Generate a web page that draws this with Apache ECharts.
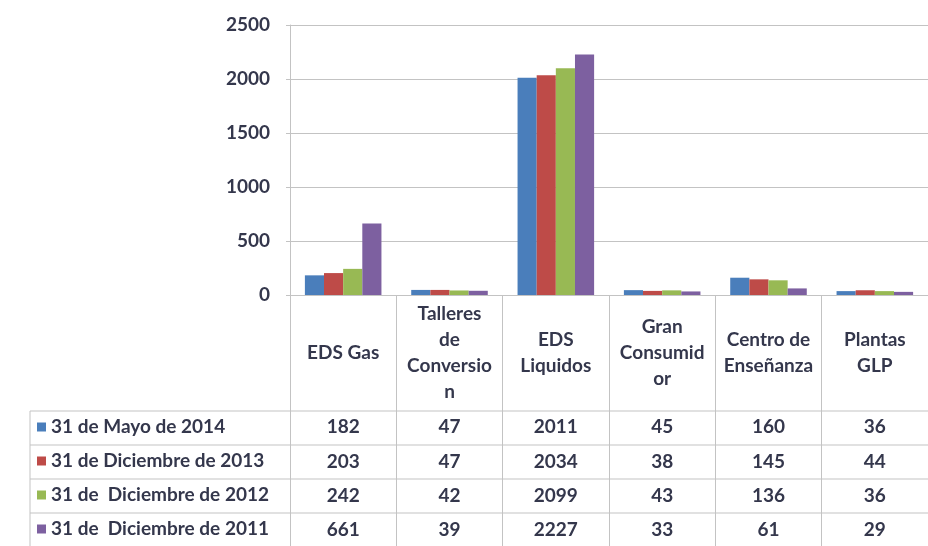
<!DOCTYPE html>
<html>
<head>
<meta charset="utf-8">
<script src="https://cdn.jsdelivr.net/npm/echarts@6/dist/echarts.min.js"></script>
<style>
  html, body { margin: 0; padding: 0; background: #fff; }
  #main { width: 928px; height: 546px; }
</style>
</head>
<body>
<div id="main"></div>
<script>
// categorias (con los saltos de linea del original)
const categories = ['EDS Gas', 'Talleres\nde\nConversio\nn', 'EDS\nLiquidos', 'Gran\nConsumid\nor', 'Centro de\nEnseñanza', 'Plantas\nGLP'];
const seriesNames = ['31 de Mayo de 2014', '31 de Diciembre de 2013', '31 de  Diciembre de 2012', '31 de  Diciembre de 2011'];
const mayo2014 = [182, 47, 2011, 45, 160, 36];
const dic2013 = [203, 47, 2034, 38, 145, 44];
const dic2012 = [242, 42, 2099, 43, 136, 36];
const dic2011 = [661, 39, 2227, 33, 61, 29];
const seriesValues = [mayo2014, dic2013, dic2012, dic2011];
const yTicks = [0, 500, 1000, 1500, 2000, 2500];
const colors = ['#4a7ebb', '#be4b48', '#98b954', '#7d60a0'];

const txt = '#34374c';
const font = 'Lato, "Open Sans", sans-serif';
const fs = 19;
const lineCol = '#c3c3c3';

const axisTop = 295;            // linea del cero
const rowCenters = [427, 462, 496, 530];
const rowLines = [411, 445, 479, 513];

const chart = echarts.init(document.getElementById('main'));

// un eje x oculto por cada fila de la tabla de datos
const rowAxes = seriesValues.map((vals, i) => ({
  type: 'category',
  data: categories,
  gridIndex: 0,
  position: 'bottom',
  offset: rowCenters[i] - axisTop,
  axisLine: { show: false },
  axisTick: { show: false },
  axisLabel: {
    interval: 0, margin: 0, verticalAlign: 'middle',
    color: txt, fontFamily: font, fontWeight: 'bold', fontSize: fs,
    formatter: (v, idx) => String(vals[idx])
  }
}));

const graphicLines = rowLines.map(y => ({
  type: 'line', silent: true,
  shape: { x1: 30, y1: y, x2: 928, y2: y },
  style: { stroke: lineCol, lineWidth: 1 }
}));
graphicLines.push({
  type: 'line', silent: true,
  shape: { x1: 30, y1: rowLines[0], x2: 30, y2: 546 },
  style: { stroke: lineCol, lineWidth: 1 }
});

chart.setOption({
  backgroundColor: '#fff',
  animation: false,
  color: colors,
  grid: { left: 290, top: 25, width: 654, height: 270 },
  legend: {
    orient: 'vertical', left: 37, top: 415, padding: 0,
    icon: 'rect', itemWidth: 9, itemHeight: 9, itemGap: 10,
    selectedMode: false,
    textStyle: { color: txt, fontFamily: font, fontWeight: 'bold', fontSize: fs, lineHeight: 24 },
    data: seriesNames
  },
  xAxis: [{
    type: 'category',
    data: categories,
    axisLine: { lineStyle: { color: lineCol } },
    axisTick: { show: true, length: 252, interval: 0, lineStyle: { color: lineCol } },
    axisLabel: {
      interval: 0, margin: 58, verticalAlign: 'middle', align: 'center',
      color: txt, fontFamily: font, fontWeight: 'bold', fontSize: fs, lineHeight: 26
    }
  }].concat(rowAxes),
  yAxis: {
    type: 'value',
    min: yTicks[0], max: yTicks[yTicks.length - 1], interval: 500,
    axisLine: { show: true, lineStyle: { color: lineCol } },
    axisTick: { show: true, length: 4, lineStyle: { color: lineCol } },
    splitLine: { lineStyle: { color: lineCol } },
    axisLabel: {
      margin: 20, color: txt, fontFamily: font, fontWeight: 'bold', fontSize: fs,
      formatter: v => String(v)
    }
  },
  series: seriesNames.map((name, i) => ({
    name: name,
    type: 'bar',
    xAxisIndex: 0,
    data: seriesValues[i],
    barGap: '0%',
    barCategoryGap: '28%'
  })),
  graphic: graphicLines
});
</script>
</body>
</html>
